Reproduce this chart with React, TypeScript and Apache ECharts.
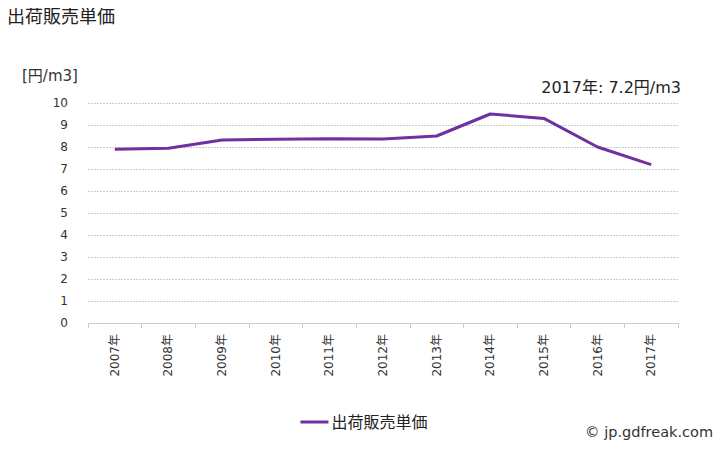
import React, { useEffect, useRef } from "react";
import * as echarts from "echarts";

const categories = ["2007年", "2008年", "2009年", "2010年", "2011年", "2012年", "2013年", "2014年", "2015年", "2016年", "2017年"];
const values = [7.9, 7.94, 8.32, 8.35, 8.38, 8.36, 8.5, 9.5, 9.3, 8.0, 7.2];
const yTicks = [0, 1, 2, 3, 4, 5, 6, 7, 8, 9, 10];
const seriesName = "出荷販売単価";
const titleText = "出荷販売単価";
const unitText = "[円/m3]";
const noteText = "2017年: 7.2円/m3";
const creditText = "© jp.gdfreak.com";

const FONT = "'DejaVu Sans', 'Noto Sans CJK JP', sans-serif";

export default function App() {
  const ref = useRef<HTMLDivElement>(null);
  useEffect(() => {
    const chart = echarts.init(ref.current!, null, { renderer: "svg" });
    chart.setOption({
      animation: false,
      textStyle: { fontFamily: FONT },
      title: {
        text: titleText,
        left: 2,
        top: 2,
        textStyle: { fontSize: 18, fontWeight: "normal", color: "#222", fontFamily: FONT },
      },
      graphic: [
        { type: "text", left: 22, top: 68, style: { text: unitText, fontSize: 15, fill: "#333", fontFamily: FONT } },
        { type: "text", right: 47, top: 79, style: { text: noteText, fontSize: 16, fill: "#222", fontFamily: FONT } },
        { type: "text", right: 15, top: 425, style: { text: creditText, fontSize: 14.5, fill: "#333", fontFamily: FONT } },
      ],
      legend: {
        data: [seriesName],
        left: "center",
        top: 409,
        itemWidth: 28,
        itemHeight: 3,
        icon: "rect",
        itemGap: 4,
        textStyle: { fontSize: 16, color: "#222", fontFamily: FONT, padding: [0, 0, 0, -2] },
      },
      grid: { left: 88, right: 50, top: 103, height: 220, containLabel: false },
      xAxis: {
        type: "category",
        data: categories,
        boundaryGap: true,
        axisLine: { show: true, lineStyle: { color: "#ccc", width: 1 } },
        axisTick: { show: true, length: 5, lineStyle: { color: "#ccc" }, alignWithLabel: false },
        axisLabel: { rotate: 90, fontSize: 12, color: "#333", margin: 11, fontFamily: FONT },
      },
      yAxis: {
        type: "value",
        min: 0,
        max: 10,
        interval: 1,
        axisLine: { show: false },
        axisTick: { show: false },
        axisLabel: {
          fontSize: 12,
          color: "#333",
          margin: 20,
          fontFamily: FONT,
          formatter: (v: number) => (yTicks.includes(v) ? String(v) : ""),
        },
        splitLine: { lineStyle: { color: "#ccc", type: [2, 1], width: 1 } },
      },
      series: [
        {
          name: seriesName,
          type: "line",
          data: values,
          symbol: "none",
          lineStyle: { color: "#7030A0", width: 3 },
          itemStyle: { color: "#7030A0" },
        },
      ],
    });
    return () => chart.dispose();
  }, []);
  return <div ref={ref} style={{ width: 728, height: 450, margin: -8 }} />;
}
